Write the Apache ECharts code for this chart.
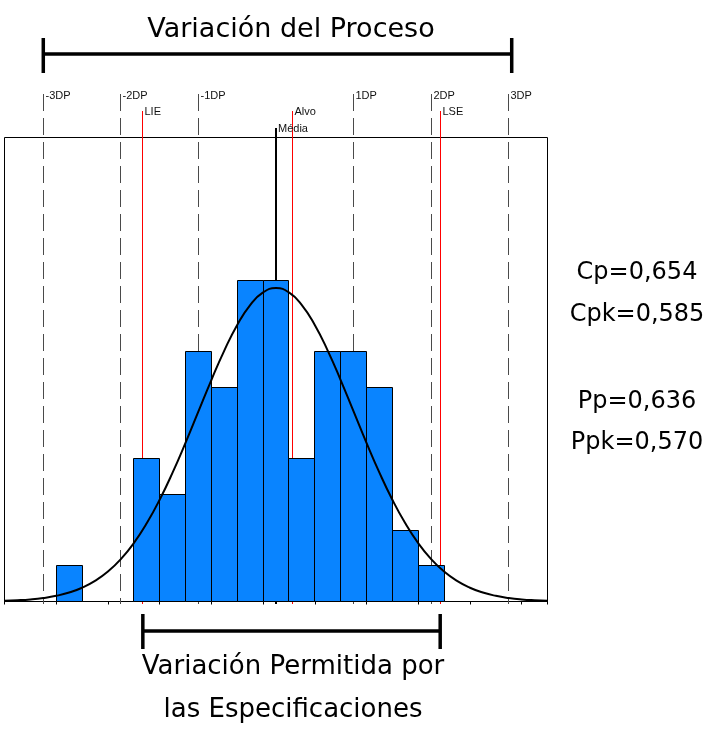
<!DOCTYPE html>
<html><head><meta charset="utf-8">
<script src="https://cdn.jsdelivr.net/npm/echarts@6/dist/echarts.min.js"></script>
<style>html,body{margin:0;padding:0;background:#fff}#c{width:721px;height:737px}</style>
</head><body><div id="c"></div>
<script>
// ---- data ----
const binStarts = [2,3,4,5,6,7,8,9,10,11,12,13,14,15,16];
const binWidth = 1;
const counts = [1,0,0,4,3,7,6,9,9,4,7,7,6,2,1];
const curveX = [0,0.5,1,1.5,2,2.5,3,3.5,4,4.5,5,5.5,6,6.5,7,7.5,8,8.5,9,9.5,10,10.5,
                11,11.5,12,12.5,13,13.5,14,14.5,15,15.5,16,16.5,17,17.5,18,18.5,19,19.5,20,20.5,21];
const curveY = [0.019,0.034,0.058,0.098,0.159,0.251,0.386,0.577,0.839,1.188,1.635,2.190,2.851,3.610,4.445,5.325,6.204,7.030,7.748,8.306,8.659,8.78,
                8.659,8.306,7.748,7.030,6.204,5.325,4.445,3.610,2.851,2.190,1.635,1.188,0.839,0.577,0.386,0.251,0.159,0.098,0.058,0.034,0.019];
const dpLabels = ['-3DP','-2DP','-1DP','1DP','2DP','3DP'];
const dpValues = [1.5,4.5,7.5,13.5,16.5,19.5];
const specLabels = ['LIE','Alvo','LSE'];
const specValues = [5.35,11.13,16.85];
const meanLabels = ['Média'];
const meanValues = [10.5];
const titleTop = 'Variación del Proceso';
const titleBottom = ['Variación Permitida por','las Especificaciones'];
const indexLabels = ['Cp=0,654','Cpk=0,585','Pp=0,636','Ppk=0,570'];

// ---- chart ----
const chart = echarts.init(document.getElementById('c'));
const bigFont = "'Comic Sans MS','DejaVu Sans',sans-serif";
const smallFont = "'Liberation Sans',Arial,sans-serif";
const crisp = v => Math.round(v - 0.5) + 0.5;

function refLine(labels, topVal, color, width, dash) {
  return function (params, api) {
    const x = api.value(0);
    const label = labels[params.dataIndex];
    const pTop = api.coord([x, topVal]);
    const pBot = api.coord([x, -0.08]);
    const px = width === 1 ? crisp(pTop[0]) : Math.round(pTop[0]);
    return {
      type: 'group',
      children: [
        { type: 'line', shape: { x1: px, y1: Math.round(pTop[1]), x2: px, y2: Math.round(pBot[1]) },
          style: { stroke: color, lineWidth: width, lineDash: dash } },
        { type: 'text', x: px + 2, y: pTop[1] + 1,
          style: { text: label, fill: '#111', fontSize: 11, fontFamily: smallFont, verticalAlign: 'middle', align: 'left' } }
      ]
    };
  };
}

const bracketSeries = {
  type: 'custom', silent: true, z: 1,
  data: [[dpValues[0], dpValues[dpValues.length - 1], specValues[0], specValues[2]]],
  encode: { x: [0, 1, 2, 3] },
  renderItem: function (params, api) {
    const a = api.coord([api.value(0), 0])[0];
    const b = api.coord([api.value(1), 0])[0] + 3;
    const c = api.coord([api.value(2), 0])[0];
    const d = api.coord([api.value(3), 0])[0];
    const st = { stroke: '#000', lineWidth: 3.5 };
    return {
      type: 'group',
      children: [
        { type: 'line', shape: { x1: a, y1: 54, x2: b, y2: 54 }, style: st },
        { type: 'line', shape: { x1: a, y1: 38, x2: a, y2: 73 }, style: st },
        { type: 'line', shape: { x1: b, y1: 38, x2: b, y2: 73 }, style: st },
        { type: 'line', shape: { x1: c, y1: 631, x2: d, y2: 631 }, style: st },
        { type: 'line', shape: { x1: c, y1: 614, x2: c, y2: 649 }, style: st },
        { type: 'line', shape: { x1: d, y1: 614, x2: d, y2: 649 }, style: st }
      ]
    };
  }
};

function bigText(text, x, y, size) {
  return { type: 'text', style: { text: text, fontSize: size, fontFamily: bigFont, fill: '#000', align: 'center', verticalAlign: 'middle', x: x, y: y } };
}

chart.setOption({
  animation: false,
  backgroundColor: '#fff',
  grid: { left: 4.5, top: 137.5, width: 543, height: 464, show: true, borderColor: '#000', borderWidth: 1, backgroundColor: 'transparent' },
  xAxis: {
    type: 'value', min: 0, max: 21, interval: 2,
    axisLine: { show: true, onZero: false, lineStyle: { color: '#000', width: 1 } },
    axisTick: { show: true, length: 3, lineStyle: { color: '#000' } },
    axisLabel: { show: false },
    splitLine: { show: false }
  },
  yAxis: { type: 'value', min: 0, max: 13, show: false, splitLine: { show: false } },
  graphic: [
    bigText(titleTop, 291, 30, 27),
    bigText(titleBottom[0], 293, 667, 26),
    bigText(titleBottom[1], 293, 710, 26),
    bigText(indexLabels[0], 637, 273, 24),
    bigText(indexLabels[1], 637, 315, 24),
    bigText(indexLabels[2], 637, 402, 24),
    bigText(indexLabels[3], 637, 443, 24)
  ],
  series: [
    { type: 'custom', name: 'dp', z: 2, silent: true,
      data: dpValues.map(v => [v]),
      encode: { x: 0 },
      renderItem: refLine(dpLabels, 14.205, '#4a4a4a', 1, [17, 7]) },
    { type: 'custom', name: 'spec', z: 2, silent: true,
      data: specValues.map(v => [v]),
      encode: { x: 0 },
      renderItem: refLine(specLabels, 13.73, '#ff0000', 1, null) },
    { type: 'custom', name: 'mean', z: 2, silent: true,
      data: meanValues.map(v => [v]),
      encode: { x: 0 },
      renderItem: refLine(meanLabels, 13.28, '#000', 2, null) },
    { type: 'custom', name: 'hist', z: 3, silent: true,
      data: binStarts.map((s, i) => [s, s + binWidth, counts[i]]),
      encode: { x: [0, 1], y: 2 },
      renderItem: function (params, api) {
        const c = api.value(2);
        if (!c) return null;
        const p0 = api.coord([api.value(0), c]);
        const p1 = api.coord([api.value(1), 0]);
        const x0 = crisp(p0[0]), x1 = crisp(p1[0]), y0 = crisp(p0[1]), y1 = crisp(p1[1]);
        return { type: 'rect', shape: { x: x0, y: y0, width: x1 - x0, height: y1 - y0 },
                 style: { fill: '#0984ff', stroke: '#000', lineWidth: 1 } };
      } },
    { type: 'line', name: 'normal', z: 4, silent: true, smooth: true, symbol: 'none',
      data: curveX.map((x, i) => [x, curveY[i]]),
      lineStyle: { color: '#000', width: 2 } },
    bracketSeries
  ]
});
</script>
</body></html>
